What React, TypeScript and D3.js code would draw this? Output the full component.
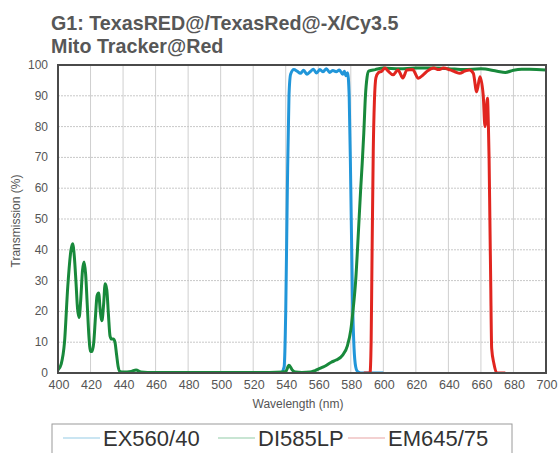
import React from "react";
import * as d3 from "d3";

// Filter transmission spectra (wavelength nm, transmission %)
const blueWl = [530, 537, 539, 540, 541, 542, 543, 545, 547, 549, 551, 553, 555, 557, 559, 561, 563, 565, 567, 569, 571, 573, 575, 576, 577, 578, 579, 580, 581, 582, 583, 584, 586, 600];
const blueVal = [0, 0, 2, 20, 60, 90, 97, 98.5, 98, 97.3, 98.3, 97, 97.8, 98.6, 97.4, 98.5, 97.8, 98.8, 97.6, 98.2, 97.8, 98.4, 97, 98, 96.5, 97.5, 90, 60, 25, 8, 2, 0.5, 0, 0];

const greenWl = [400, 402, 404, 406, 408, 409, 410, 411, 412, 413, 414, 415, 416, 417, 418, 419, 420, 421, 422, 423, 424, 425, 426, 427, 428, 429, 430, 431, 432, 433, 434, 435, 436, 437, 438, 440, 445, 448, 451, 455, 470, 490, 510, 530, 538, 540, 542, 544, 546, 550, 555, 558, 561, 564, 568, 571, 575, 578, 580, 581.5, 583, 584.5, 586, 587, 588, 589, 590, 591, 595, 600, 610, 620, 630, 640, 650, 660, 670, 675, 680, 685, 690, 700];
const greenVal = [1, 3, 10, 28, 40, 42, 38, 30, 21, 18, 24, 33, 36, 32, 22, 12, 7, 7, 10, 18, 25, 26, 20, 17, 22, 29, 27, 19, 12, 11, 11, 10, 6, 2, 0.5, 0.3, 0.5, 1, 0.3, 0.2, 0.2, 0.2, 0.2, 0.2, 0.3, 0.5, 2.5, 1, 0.3, 0.2, 0.3, 0.8, 1.5, 2.2, 3.5, 4.2, 5.8, 9, 14, 21, 30, 44, 59, 68, 78, 90, 96, 98, 98.5, 99, 98.8, 99, 99, 98.8, 98.5, 98.8, 98, 97.6, 98.3, 98.6, 98.6, 98.4];

const redWl = [588, 591.8, 592.5, 593, 593.8, 594.5, 595.5, 597, 599, 601, 603, 606, 609, 612, 614.5, 618, 621.5, 624.5, 627, 631, 634, 637, 641, 644, 647, 650, 653, 655.3, 657.4, 659.4, 661.4, 662.5, 664, 664.6, 665, 665.5, 666, 666.6, 668, 669.7, 675];
const redVal = [0, 0, 10, 35, 72, 88, 96, 97.5, 98, 99, 98, 96.8, 98.4, 95.8, 98.4, 98.5, 95.7, 96.8, 98, 99, 98.5, 99, 98.4, 97.8, 97.3, 98, 98.4, 97.3, 91.3, 96.2, 90.2, 80, 89.2, 80, 70, 50, 30, 8, 3, 0, 0];

const xTicks = [400, 420, 440, 460, 480, 500, 520, 540, 560, 580, 600, 620, 640, 660, 680, 700];
const yTicks = [0, 10, 20, 30, 40, 50, 60, 70, 80, 90, 100];
const legendNames = ["EX560/40", "DI585LP", "EM645/75"];

const W = 559;
const H = 453;
const left = 58;
const right = 546;
const top = 65;
const bottom = 373;

const series = [
  { wl: blueWl, val: blueVal, color: "#2196d9", legend: "#b8dcee" },
  { wl: greenWl, val: greenVal, color: "#18893b", legend: "#b6dcc4" },
  { wl: redWl, val: redVal, color: "#e1251f", legend: "#efc2c2" },
];
const legendX = [63, 218, 348];

const font = "'Liberation Sans', Arial, sans-serif";

export default function App() {
  const x = d3.scaleLinear().domain([400, 700]).range([left, right]);
  const y = d3.scaleLinear().domain([0, 100]).range([bottom, top]);

  const line = d3
    .line<[number, number]>()
    .x((d) => x(d[0]))
    .y((d) => y(d[1]))
    .curve(d3.curveMonotoneX);

  return (
    <svg
      width={W}
      height={H}
      style={{ position: "absolute", left: 0, top: 0, background: "#fff" }}
      fontFamily={font}
    >
      {/* title */}
      <text x={51} y={30} fontSize={19.7} fontWeight="bold" fill="#575757">
        G1: TexasRED@/TexasRed@-X/Cy3.5
      </text>
      <text x={51} y={53} fontSize={19.7} fontWeight="bold" fill="#575757">
        Mito Tracker@Red
      </text>

      {/* grid */}
      {xTicks.slice(1, -1).map((t) => (
        <line key={"gx" + t} x1={x(t)} x2={x(t)} y1={top} y2={bottom} stroke="#cfcfcf" strokeWidth={1} />
      ))}
      {yTicks.slice(1, -1).map((t) => (
        <line
          key={"gy" + t}
          x1={left}
          x2={right}
          y1={y(t)}
          y2={y(t)}
          stroke="#c8c8c8"
          strokeWidth={1}
          strokeDasharray="2,1"
        />
      ))}

      {/* curves */}
      <defs>
        <clipPath id="plotClip">
          <rect x={left} y={top - 2} width={right - left} height={bottom - top + 2} />
        </clipPath>
      </defs>
      <g clipPath="url(#plotClip)">
        {series.map((s, i) => (
          <path
            key={i}
            d={line(s.wl.map((w, j) => [w, s.val[j]] as [number, number])) || ""}
            fill="none"
            stroke={s.color}
            strokeWidth={3}
            strokeLinejoin="round"
          />
        ))}
      </g>

      {/* frame */}
      <rect x={left} y={top} width={right - left} height={bottom - top} fill="none" stroke="#4a4a4a" strokeWidth={2} />

      {/* y axis labels */}
      {yTicks.map((t) => (
        <text key={"yl" + t} x={48} y={y(t) + 4} fontSize={12} fill="#555" textAnchor="end">
          {t}
        </text>
      ))}
      <text
        transform={`translate(20, ${(top + bottom) / 2 + 2}) rotate(-90)`}
        fontSize={12}
        fill="#555"
        textAnchor="middle"
      >
        Transmission (%)
      </text>

      {/* x axis labels */}
      {xTicks.map((t) => (
        <text key={"xl" + t} x={x(t) + 1} y={389} fontSize={12.5} fill="#555" textAnchor="middle">
          {t}
        </text>
      ))}
      <text x={(left + right) / 2 - 4} y={408} fontSize={12} fill="#555" textAnchor="middle">
        Wavelength (nm)
      </text>

      {/* legend */}
      <rect x={52} y={424} width={460} height={40} fill="#fff" stroke="#9a9a9a" strokeWidth={1} />
      {legendNames.map((name, i) => (
        <g key={name} transform={`translate(${legendX[i]}, 0)`}>
          <line x1={0} x2={37} y1={438} y2={438} stroke={series[i].legend} strokeWidth={1.5} />
          <text x={40} y={446} fontSize={22} fill="#333">
            {name}
          </text>
        </g>
      ))}
    </svg>
  );
}
